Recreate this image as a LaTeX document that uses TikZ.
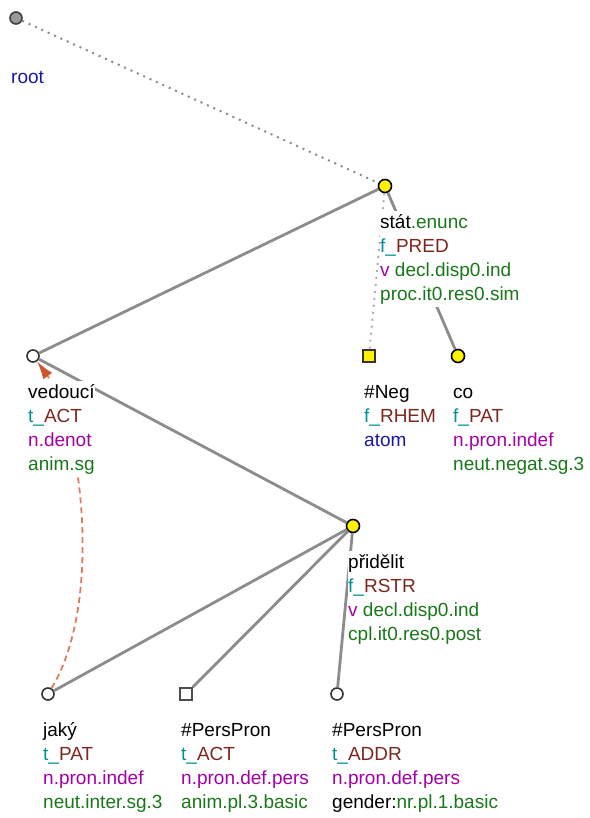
\documentclass[tikz,border=0pt]{standalone}
\usepackage{fontspec}
\setmainfont{Liberation Sans}
\usetikzlibrary{arrows.meta,positioning}
\definecolor{EdgeGray}{RGB}{140,140,140}
\definecolor{DotGray}{RGB}{140,140,140}
\definecolor{DotPink}{RGB}{190,165,190}
\definecolor{CorefLine}{RGB}{220,125,95}
\definecolor{CorefTip}{RGB}{205,85,45}
\definecolor{FuncTeal}{RGB}{0,145,145}
\definecolor{FuncBrown}{RGB}{125,40,30}
\definecolor{SemPurple}{RGB}{165,0,165}
\definecolor{GramGreen}{RGB}{25,120,25}
\definecolor{AtomBlue}{RGB}{25,25,165}
\newcommand{\fn}[1]{\textcolor{FuncTeal}{f\_}\textcolor{FuncBrown}{#1}}
\newcommand{\tn}[1]{\textcolor{FuncTeal}{t\_}\textcolor{FuncBrown}{#1}}
\newcommand{\gr}[1]{\textcolor{GramGreen}{#1}}
\newcommand{\pu}[1]{\textcolor{SemPurple}{#1}}
\newcommand{\lbfont}{\fontsize{19}{24}\selectfont}

\begin{document}
\begin{tikzpicture}[x=1pt,y=-1pt,>=Latex,
    yelnode/.style={circle,draw=black,fill=yellow,line width=1.6pt,inner sep=0pt,minimum size=13pt},
    yelbox/.style={rectangle,draw=black!80,fill=yellow,line width=1.6pt,inner sep=0pt,minimum size=12.5pt},
    whnode/.style={circle,draw=black!80,fill=white,line width=1.6pt,inner sep=0pt,minimum size=12pt},
    whbox/.style={rectangle,draw=black!70,fill=white,line width=1.6pt,inner sep=0pt,minimum size=12pt},
    rootnode/.style={circle,draw=black!75,fill=black!40,line width=1.6pt,inner sep=0pt,minimum size=12pt},
    edge/.style={EdgeGray,line width=2.8pt},
    dotedge/.style={DotGray,line width=2pt,dash pattern=on 2pt off 5pt},
    pinkedge/.style={DotPink,line width=2pt,dash pattern=on 2pt off 5pt},
    coref/.style={CorefLine,line width=1.8pt,dash pattern=on 6pt off 4pt,
      arrows={-Latex[length=18pt,width=11pt,color=CorefTip]}},
    lbl/.style={anchor=north west,xshift=-5pt,yshift=-25pt,inner sep=0pt,fill=white,
      align=left,font=\lbfont}]
  \useasboundingbox (0,0) rectangle (589,818);
  % tree vertices
  \node[rootnode] (root) at (16,18) {};
  \node[yelnode] (stat) at (385,186) {};
  \node[whnode] (vedouci) at (33,356) {};
  \node[yelbox] (neg) at (369,356) {};
  \node[yelnode] (co) at (458,356) {};
  \node[yelnode] (pridelit) at (353,526) {};
  \node[whnode] (jaky) at (48,694) {};
  \node[whbox] (pp1) at (186,694) {};
  \node[whnode] (pp2) at (337,694) {};
  % edges
  \draw[dotedge] (root) -- (stat);
  \draw[edge] (stat) -- (vedouci);
  \draw[pinkedge] (stat) -- (neg);
  \draw[edge] (stat) -- (co);
  \draw[edge] (vedouci) -- (pridelit);
  \foreach \kid in {jaky,pp1,pp2}
    \draw[edge] (pridelit) -- (\kid);
  \draw[coref] (jaky) .. controls (105,600) and (80,420) .. (vedouci);
  % labels
  \node[lbl] (root-l) at (root) {\strut\\\strut\textcolor{AtomBlue}{root}};
  \node[lbl] (stat-l) at (stat) {\strut stát\gr{.enunc}\\\strut\fn{PRED}\\
    \strut\pu{v} \gr{decl.disp0.ind}\\\strut\gr{proc.it0.res0.sim}};
  \node[lbl] (vedouci-l) at (vedouci) {\strut vedoucí\\\strut\tn{ACT}\\
    \strut\pu{n.denot}\\\strut\gr{anim.sg}};
  \node[lbl] (neg-l) at (neg) {\strut\#Neg\\\strut\fn{RHEM}\\\strut\textcolor{AtomBlue}{atom}};
  \node[lbl] (co-l) at (co) {\strut co\\\strut\fn{PAT}\\
    \strut\pu{n.pron.indef}\\\strut\gr{neut.negat.sg.3}};
  \node[lbl] (pridelit-l) at (pridelit) {\strut přidělit\\\strut\fn{RSTR}\\
    \strut\pu{v} \gr{decl.disp0.ind}\\\strut\gr{cpl.it0.res0.post}};
  \node[lbl] (jaky-l) at (jaky) {\strut jaký\\\strut\tn{PAT}\\
    \strut\pu{n.pron.indef}\\\strut\gr{neut.inter.sg.3}};
  \node[lbl] (pp1-l) at (pp1) {\strut\#PersPron\\\strut\tn{ACT}\\
    \strut\pu{n.pron.def.pers}\\\strut\gr{anim.pl.3.basic}};
  \node[lbl] (pp2-l) at (pp2) {\strut\#PersPron\\\strut\tn{ADDR}\\
    \strut\pu{n.pron.def.pers}\\\strut gender:\gr{nr.pl.1.basic}};
\end{tikzpicture}
\end{document}
